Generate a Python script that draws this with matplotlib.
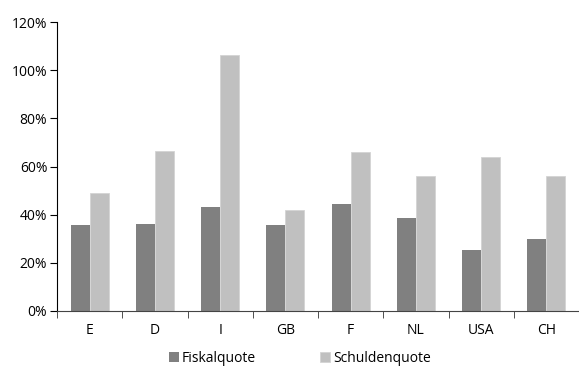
import numpy as np
import matplotlib.pyplot as plt
from matplotlib.ticker import FuncFormatter, FixedLocator

# Data
laender = ["E", "D", "I", "GB", "F", "NL", "USA", "CH"]
fiskalquote = [35.7, 36.1, 43.2, 35.7, 44.4, 38.6, 25.3, 29.9]
schuldenquote = [49.1, 66.3, 106.4, 41.9, 66.0, 56.1, 63.8, 56.1]

plt.rcParams["font.family"] = ["Open Sans", "DejaVu Sans"]
plt.rcParams["font.size"] = 10

fig = plt.figure(figsize=(5.79, 3.67), dpi=100)
ax = fig.add_axes([57 / 579, 1 - 311 / 367, 522 / 579, 289 / 367])

x = np.arange(len(laender))
w = 0.29
ax.bar(x - w / 2, fiskalquote, w, color="#808080", label="Fiskalquote")
ax.bar(x + w / 2, schuldenquote, w, color="#c0c0c0", edgecolor="#d4d4d4",
       linewidth=0.6, label="Schuldenquote")

ax.set_xlim(-0.5, len(laender) - 0.5)
ax.set_ylim(0, 120)
ax.set_yticks(range(0, 121, 20))
ax.yaxis.set_major_formatter(FuncFormatter(lambda v, p: f"{v:.0f}%"))

ax.set_xticks(x)
ax.set_xticklabels(laender)
ax.tick_params(axis="x", which="major", length=0, pad=9)
ax.xaxis.set_minor_locator(FixedLocator(np.arange(-0.5, len(laender), 1.0)))
ax.tick_params(axis="x", which="minor", length=5, direction="out", color="#333333")
ax.tick_params(axis="y", length=5, direction="out", pad=2)

for s in ["top", "right"]:
    ax.spines[s].set_visible(False)
ax.spines["left"].set_color("black")
ax.spines["bottom"].set_color("#444444")

ax.legend(loc="center", bbox_to_anchor=(0.465, -0.165), ncol=2, frameon=False,
          handlelength=0.75, handleheight=0.75, handletextpad=0.2,
          columnspacing=4.6, borderpad=0)

plt.savefig("out.png", dpi=100)
